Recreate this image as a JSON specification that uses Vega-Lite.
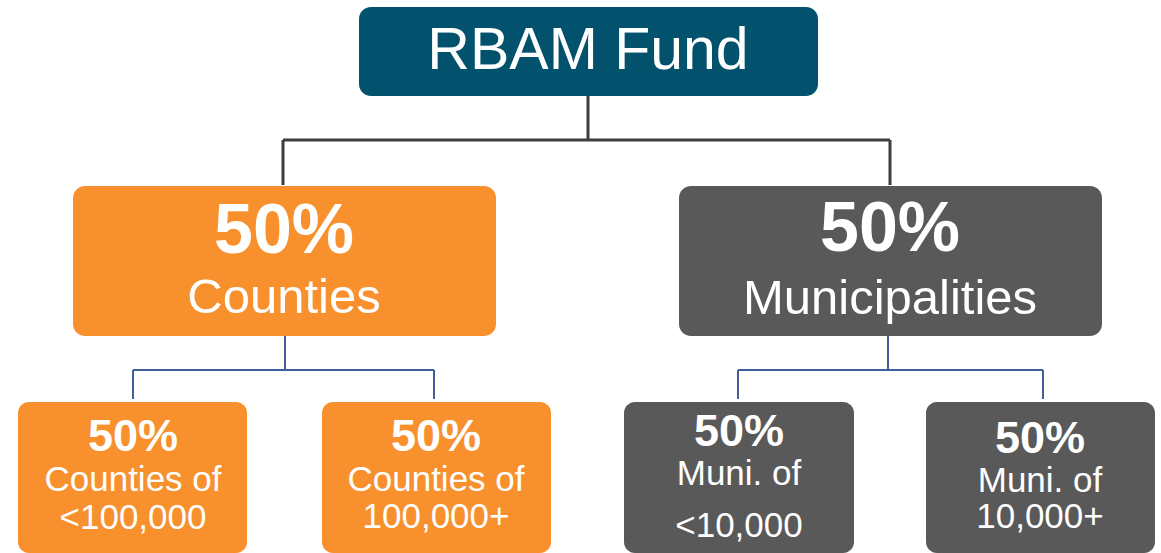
{
  "$schema": "https://vega.github.io/schema/vega-lite/v6.json",
  "width": 1161,
  "height": 553,
  "padding": 0,
  "autosize": {"type": "none"},
  "background": "#ffffff",
  "config": {"view": {"stroke": null}},
  "datasets": {
    "boxes": [
      {"id": "RBAM Fund", "group": "fund", "level": "top", "x": 359, "x2": 818, "y": 7, "y2": 96},
      {"id": "Counties", "group": "counties", "level": "mid", "x": 73, "x2": 496, "y": 186, "y2": 336},
      {"id": "Municipalities", "group": "municipalities", "level": "mid", "x": 679, "x2": 1102, "y": 186, "y2": 336},
      {"id": "Counties of <100,000", "group": "counties", "level": "low", "x": 18, "x2": 247, "y": 402, "y2": 553},
      {"id": "Counties of 100,000+", "group": "counties", "level": "low", "x": 322, "x2": 551, "y": 402, "y2": 553},
      {"id": "Muni. of <10,000", "group": "municipalities", "level": "low", "x": 624, "x2": 854, "y": 402, "y2": 553},
      {"id": "Muni. of 10,000+", "group": "municipalities", "level": "low", "x": 926, "x2": 1155, "y": 402, "y2": 553}
    ],
    "links": [
      {"tier": "upper", "x": 588, "x2": 588, "y": 96, "y2": 140},
      {"tier": "upper", "x": 283, "x2": 890, "y": 140, "y2": 140},
      {"tier": "upper", "x": 283, "x2": 283, "y": 140, "y2": 185},
      {"tier": "upper", "x": 890, "x2": 890, "y": 140, "y2": 185},
      {"tier": "lower", "x": 285, "x2": 285, "y": 336, "y2": 370},
      {"tier": "lower", "x": 133, "x2": 434, "y": 370, "y2": 370},
      {"tier": "lower", "x": 133, "x2": 133, "y": 370, "y2": 399},
      {"tier": "lower", "x": 434, "x2": 434, "y": 370, "y2": 399},
      {"tier": "lower", "x": 888, "x2": 888, "y": 336, "y2": 370},
      {"tier": "lower", "x": 738, "x2": 1043, "y": 370, "y2": 370},
      {"tier": "lower", "x": 738, "x2": 738, "y": 370, "y2": 399},
      {"tier": "lower", "x": 1043, "x2": 1043, "y": 370, "y2": 399}
    ],
    "labels": [
      {"role": "title", "text": "RBAM Fund", "x": 588, "y": 51},
      {"role": "midPct", "text": "50%", "x": 284, "y": 232},
      {"role": "midName", "text": "Counties", "x": 284, "y": 298},
      {"role": "midPct", "text": "50%", "x": 890, "y": 230},
      {"role": "midName", "text": "Municipalities", "x": 890, "y": 299},
      {"role": "lowPct", "text": "50%", "x": 133, "y": 437},
      {"role": "lowLine", "text": "Counties of", "x": 133, "y": 480},
      {"role": "lowLine", "text": "<100,000", "x": 133, "y": 518},
      {"role": "lowPct", "text": "50%", "x": 436, "y": 437},
      {"role": "lowLine", "text": "Counties of", "x": 436, "y": 480},
      {"role": "lowLine", "text": "100,000+", "x": 436, "y": 517},
      {"role": "lowPct", "text": "50%", "x": 739, "y": 432},
      {"role": "lowLine", "text": "Muni. of", "x": 739, "y": 474},
      {"role": "lowLine", "text": "<10,000", "x": 739, "y": 526},
      {"role": "lowPct", "text": "50%", "x": 1040, "y": 439},
      {"role": "lowLine", "text": "Muni. of", "x": 1040, "y": 481},
      {"role": "lowLine", "text": "10,000+", "x": 1040, "y": 517}
    ]
  },
  "layer": [
    {
      "data": {"name": "links"},
      "transform": [{"filter": "datum.tier === 'upper'"}],
      "mark": {"type": "rule", "color": "#3d3d3d", "strokeWidth": 3},
      "encoding": {
        "x": {"field": "x", "type": "quantitative", "scale": {"domain": [0, 1161]}, "axis": null},
        "x2": {"field": "x2"},
        "y": {"field": "y", "type": "quantitative", "scale": {"domain": [0, 553], "reverse": true}, "axis": null},
        "y2": {"field": "y2"}
      }
    },
    {
      "data": {"name": "links"},
      "transform": [{"filter": "datum.tier === 'lower'"}],
      "mark": {"type": "rule", "color": "#3e5f9c", "strokeWidth": 2},
      "encoding": {
        "x": {"field": "x", "type": "quantitative", "scale": {"domain": [0, 1161]}, "axis": null},
        "x2": {"field": "x2"},
        "y": {"field": "y", "type": "quantitative", "scale": {"domain": [0, 553], "reverse": true}, "axis": null},
        "y2": {"field": "y2"}
      }
    },
    {
      "data": {"name": "boxes"},
      "transform": [{"filter": "datum.level !== 'low'"}],
      "mark": {"type": "rect", "cornerRadius": 12},
      "encoding": {
        "x": {"field": "x", "type": "quantitative", "scale": {"domain": [0, 1161]}, "axis": null},
        "x2": {"field": "x2"},
        "y": {"field": "y", "type": "quantitative", "scale": {"domain": [0, 553], "reverse": true}, "axis": null},
        "y2": {"field": "y2"},
        "color": {"field": "group", "type": "nominal", "legend": null,
          "scale": {"domain": ["fund", "counties", "municipalities"], "range": ["#03526d", "#f7902d", "#595959"]}}
      }
    },
    {
      "data": {"name": "boxes"},
      "transform": [{"filter": "datum.level === 'low'"}],
      "mark": {"type": "rect", "cornerRadius": 11},
      "encoding": {
        "x": {"field": "x", "type": "quantitative", "scale": {"domain": [0, 1161]}, "axis": null},
        "x2": {"field": "x2"},
        "y": {"field": "y", "type": "quantitative", "scale": {"domain": [0, 553], "reverse": true}, "axis": null},
        "y2": {"field": "y2"},
        "color": {"field": "group", "type": "nominal", "legend": null,
          "scale": {"domain": ["fund", "counties", "municipalities"], "range": ["#03526d", "#f7902d", "#595959"]}}
      }
    },
    {
      "data": {"name": "labels"},
      "transform": [{"filter": "datum.role === 'title'"}],
      "mark": {"type": "text", "font": "Liberation Sans", "fontSize": 59, "color": "#ffffff", "baseline": "middle", "align": "center"},
      "encoding": {
        "x": {"field": "x", "type": "quantitative", "scale": {"domain": [0, 1161]}, "axis": null},
        "y": {"field": "y", "type": "quantitative", "scale": {"domain": [0, 553], "reverse": true}, "axis": null},
        "text": {"field": "text"}
      }
    },
    {
      "data": {"name": "labels"},
      "transform": [{"filter": "datum.role === 'midPct'"}],
      "mark": {"type": "text", "font": "Liberation Sans", "fontSize": 70, "fontWeight": "bold", "color": "#ffffff", "baseline": "middle", "align": "center"},
      "encoding": {
        "x": {"field": "x", "type": "quantitative", "scale": {"domain": [0, 1161]}, "axis": null},
        "y": {"field": "y", "type": "quantitative", "scale": {"domain": [0, 553], "reverse": true}, "axis": null},
        "text": {"field": "text"}
      }
    },
    {
      "data": {"name": "labels"},
      "transform": [{"filter": "datum.role === 'midName'"}],
      "mark": {"type": "text", "font": "Liberation Sans", "fontSize": 49, "color": "#ffffff", "baseline": "middle", "align": "center"},
      "encoding": {
        "x": {"field": "x", "type": "quantitative", "scale": {"domain": [0, 1161]}, "axis": null},
        "y": {"field": "y", "type": "quantitative", "scale": {"domain": [0, 553], "reverse": true}, "axis": null},
        "text": {"field": "text"}
      }
    },
    {
      "data": {"name": "labels"},
      "transform": [{"filter": "datum.role === 'lowPct'"}],
      "mark": {"type": "text", "font": "Liberation Sans", "fontSize": 45, "fontWeight": "bold", "color": "#ffffff", "baseline": "middle", "align": "center"},
      "encoding": {
        "x": {"field": "x", "type": "quantitative", "scale": {"domain": [0, 1161]}, "axis": null},
        "y": {"field": "y", "type": "quantitative", "scale": {"domain": [0, 553], "reverse": true}, "axis": null},
        "text": {"field": "text"}
      }
    },
    {
      "data": {"name": "labels"},
      "transform": [{"filter": "datum.role === 'lowLine'"}],
      "mark": {"type": "text", "font": "Liberation Sans", "fontSize": 35, "color": "#ffffff", "baseline": "middle", "align": "center"},
      "encoding": {
        "x": {"field": "x", "type": "quantitative", "scale": {"domain": [0, 1161]}, "axis": null},
        "y": {"field": "y", "type": "quantitative", "scale": {"domain": [0, 553], "reverse": true}, "axis": null},
        "text": {"field": "text"}
      }
    }
  ]
}
